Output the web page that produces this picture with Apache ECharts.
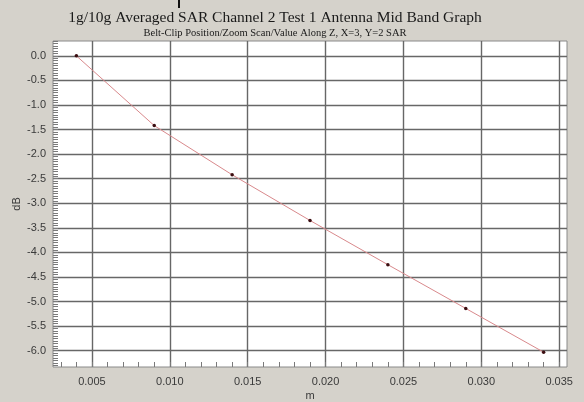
<!DOCTYPE html>
<html>
<head>
<meta charset="utf-8">
<script src="https://cdn.jsdelivr.net/npm/echarts@6/dist/echarts.min.js"></script>
<style>
  html, body { margin: 0; padding: 0; background: #d5d2cb; }
  #chart { width: 584px; height: 402px; }
</style>
</head>
<body>
<div id="chart"></div>
<script>
// Averaged SAR falloff along Z
const distances = [0.004, 0.009, 0.014, 0.019, 0.024, 0.029, 0.034];   // m
const sarDb     = [0.0, -1.42, -2.42, -3.35, -4.25, -5.14, -6.03];     // dB
const xLabels   = [0.005, 0.010, 0.015, 0.020, 0.025, 0.030, 0.035];
const yLabels   = [0.0, -0.5, -1.0, -1.5, -2.0, -2.5, -3.0, -3.5, -4.0, -4.5, -5.0, -5.5, -6.0];

// axis extents: data range padded by 5% on each side
function padded(arr) {
  const lo = Math.min(...arr), hi = Math.max(...arr), p = (hi - lo) * 0.05;
  return [lo - p, hi + p];
}
const [xMin, xMax] = padded(distances);
const [yMin, yMax] = padded(sarDb);

// minor tick positions (x every 0.001, y every 0.05)
const xMinor = [];
for (let i = Math.ceil(xMin * 1000); i <= Math.floor(xMax * 1000); i++) xMinor.push(i / 1000);
const yMinor = [];
for (let i = Math.ceil(yMin * 20); i <= Math.floor(yMax * 20); i++) yMinor.push(i / 20);

const points = distances.map((d, i) => [d, sarDb[i]]);

const chart = echarts.init(document.getElementById('chart'), null, { renderer: 'canvas' });
const axisText = { color: '#3a3a3a', fontFamily: 'Liberation Sans, Arial, sans-serif', fontSize: 11 };
const serif = 'Liberation Serif, Times New Roman, serif';
const gridLine = { show: true, lineStyle: { color: '#676767', width: 1.4 } };
const minorTick = { show: true, inside: true, length: 5, lineStyle: { color: '#7a7a7a' } };
const noLine = { show: false, onZero: false };

chart.setOption({
  backgroundColor: '#d5d2cb',
  animation: false,
  title: [{
    text: '1g/10g Averaged SAR Channel 2 Test 1 Antenna Mid Band Graph',
    left: 270, top: 5, textAlign: 'center',
    textStyle: { fontFamily: serif, fontSize: 15.5, fontWeight: 'normal', color: '#1a1a1a' }
  }, {
    text: 'Belt-Clip Position/Zoom Scan/Value Along Z, X=3, Y=2 SAR',
    left: 270, top: 23, textAlign: 'center',
    textStyle: { fontFamily: serif, fontSize: 10.5, fontWeight: 'normal', color: '#1a1a1a' }
  }],
  graphic: [{
    type: 'rect', left: 178, top: 0, z: 10,
    shape: { width: 2, height: 8 }, style: { fill: '#111' }
  }],
  grid: {
    left: 53, right: 17, top: 41, bottom: 35, outerBoundsMode: 'none', containLabel: false,
    show: true, backgroundColor: '#ffffff', borderColor: '#8a8a8a', borderWidth: 1
  },
  xAxis: [{
    // labels and minor ticks along the bottom
    type: 'value', min: xMin, max: xMax, position: 'bottom',
    name: 'm', nameLocation: 'middle', nameGap: 23, nameMoveOverlap: false,
    nameTextStyle: axisText,
    axisLine: noLine,
    axisTick: Object.assign({ customValues: xMinor }, minorTick),
    axisLabel: Object.assign({ customValues: xLabels, margin: 9, formatter: v => v.toFixed(3) }, axisText),
    splitLine: { show: false }
  }, {
    // major grid lines
    type: 'value', min: xMin, max: xMax, position: 'top',
    axisLine: noLine,
    axisTick: { show: false, customValues: xLabels },
    axisLabel: { show: false },
    splitLine: gridLine
  }],
  yAxis: [{
    type: 'value', min: yMin, max: yMax, position: 'left',
    name: 'dB', nameLocation: 'middle', nameGap: 31, nameRotate: 90, nameMoveOverlap: false,
    nameTextStyle: axisText,
    axisLine: noLine,
    axisTick: Object.assign({ customValues: yMinor }, minorTick),
    axisLabel: Object.assign({ customValues: yLabels, margin: 7, formatter: v => v.toFixed(1) }, axisText),
    splitLine: { show: false }
  }, {
    type: 'value', min: yMin, max: yMax, position: 'right',
    axisLine: noLine,
    axisTick: { show: false, customValues: yLabels },
    axisLabel: { show: false },
    splitLine: gridLine
  }],
  series: [{
    type: 'line',
    data: points,
    symbol: 'circle', symbolSize: 3.5,
    lineStyle: { color: '#d9898c', width: 1 },
    itemStyle: { color: '#3b0d10', borderWidth: 0 }
  }]
});
</script>
</body>
</html>
